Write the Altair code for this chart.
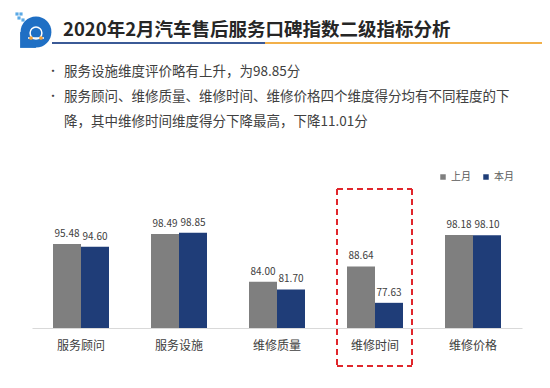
import altair as alt
import pandas as pd

# ---- data ----
categories = ["服务顾问", "服务设施", "维修质量", "维修时间", "维修价格"]
series = ["上月", "本月"]
last_month = [95.48, 98.49, 84.00, 88.64, 98.18]
this_month = [94.60, 98.85, 81.70, 77.63, 98.10]
y_floor = 70

title_text = "2020年2月汽车售后服务口碑指数二级指标分析"
bullet_lines = [
    "服务设施维度评价略有上升，为98.85分",
    "服务顾问、维修质量、维修时间、维修价格四个维度得分均有不同程度的下",
    "降，其中维修时间维度得分下降最高，下降11.01分",
]

rows = []
for c, a, b in zip(categories, last_month, this_month):
    rows.append({"category": c, "series": "上月", "value": a})
    rows.append({"category": c, "series": "本月", "value": b})
df = pd.DataFrame(rows)

FONT = "Noto Sans CJK SC"
GRAY = "#7f7f7f"
BLUE = "#1f3d78"
AXIS_GRAY = "#d9d9d9"

x_scale = alt.Scale(paddingInner=0, paddingOuter=0)
x_enc = alt.X("category:N", sort=categories, scale=x_scale,
              axis=alt.Axis(title=None, labelAngle=0, labelFont=FONT, labelFontSize=12,
                            labelColor="#404040", labelPadding=12, domainColor=AXIS_GRAY,
                            ticks=False, grid=False))
xo_enc = alt.XOffset("series:N", sort=series,
                     scale=alt.Scale(paddingInner=0, paddingOuter=0.75))
y_enc = alt.Y("value:Q", scale=alt.Scale(domain=[y_floor, 110], zero=False, nice=False), axis=None)
color_enc = alt.Color("series:N", sort=series,
                      scale=alt.Scale(domain=series, range=[GRAY, BLUE]),
                      legend=alt.Legend(title=None, orient="none", legendX=406, legendY=-24,
                                        direction="horizontal", symbolType="square",
                                        symbolSize=30, symbolStrokeWidth=0,
                                        labelFont=FONT, labelFontSize=10, labelColor="#595959",
                                        labelOffset=3, columnPadding=10))

base = alt.Chart(df)
bars = base.mark_bar().encode(x=x_enc, xOffset=xo_enc, y=y_enc, y2=alt.datum(y_floor),
                              color=color_enc)
labels = base.mark_text(baseline="bottom", dy=-5, font=FONT, fontSize=10, color="#404040").encode(
    x=x_enc, xOffset=xo_enc, y=y_enc, text=alt.Text("value:Q", format=".2f"))

one = pd.DataFrame({"a": [0]})


def text_layer(t, x, y, **kw):
    return alt.Chart(pd.DataFrame({"t": [t]})).mark_text(**kw).encode(
        x=alt.value(x), y=alt.value(y), text="t:N")


def hrule(x1, x2, y, **kw):
    return alt.Chart(one).mark_rule(**kw).encode(x=alt.value(x1), x2=alt.value(x2), y=alt.value(y))


def vrule(x, y1, y2, **kw):
    return alt.Chart(one).mark_rule(**kw).encode(x=alt.value(x), y=alt.value(y1), y2=alt.value(y2))


def point(x, y, shape, **kw):
    return alt.Chart(one).mark_point(shape=shape, **kw).encode(x=alt.value(x), y=alt.value(y))


# ---- header ----
title = text_layer(title_text, 31, -166, align="left", baseline="middle", font=FONT,
                   fontSize=18.5, fontWeight="bold", color="#262626")
underline_blue = hrule(20, 233, -153, color="#3b5a96", strokeWidth=2)
underline_orange = hrule(233, 511, -153, color="#f2b04a", strokeWidth=2)

# logo (rounded blue badge with small car)
logo_layers = [
    point(4, -164, "circle", size=950, filled=True, color="#1f6fc4", opacity=1),
    point(-4, -156, "square", size=250, filled=True, color="#1f6fc4", opacity=1),
]
for px, py in [(-15, -182), (-11, -182), (-13, -178), (-9, -176)]:
    logo_layers.append(point(px, py, "square", size=10, filled=True, color="#5aa9e6", opacity=1))
logo_layers.append(hrule(-4, 12, -158, color="white", strokeWidth=1.5))
logo_layers.append(point(4, -163, "circle", size=140, filled=False, color="white",
                         strokeWidth=1.5, opacity=1))
for px in [-1, 9]:
    logo_layers.append(point(px, -158, "circle", size=14, filled=True, color="#f2a03a", opacity=1))

# ---- bullets ----
bullet_layers = []
for i, (t, py) in enumerate(zip(bullet_lines, [-124, -99, -74])):
    bullet_layers.append(text_layer(t, 32, py, align="left", baseline="middle", font=FONT,
                                    fontSize=13.5, color="#404040"))
    if i < 2:
        bullet_layers.append(text_layer("•", 21, py, align="center", baseline="middle",
                                        font=FONT, fontSize=11, color="#404040"))

# ---- dashed highlight box around 维修时间 ----
dash = dict(color="#e0262b", strokeWidth=2, strokeDash=[6, 4])
box = [hrule(305, 380, -7, **dash), hrule(305, 380, 170, **dash),
       vrule(305, -7, 170, **dash), vrule(380, -7, 170, **dash)]

chart = alt.layer(
    bars, labels, title, underline_blue, underline_orange,
    *logo_layers, *bullet_layers, *box
).properties(
    width=490, height=132,
    padding={"left": 24, "top": 188, "right": 20, "bottom": 52},
    autosize=alt.AutoSizeParams(type="none"),
    background="white",
).configure_view(stroke=None)

chart.save("out.html", embed_options={"renderer": "svg", "actions": False})
